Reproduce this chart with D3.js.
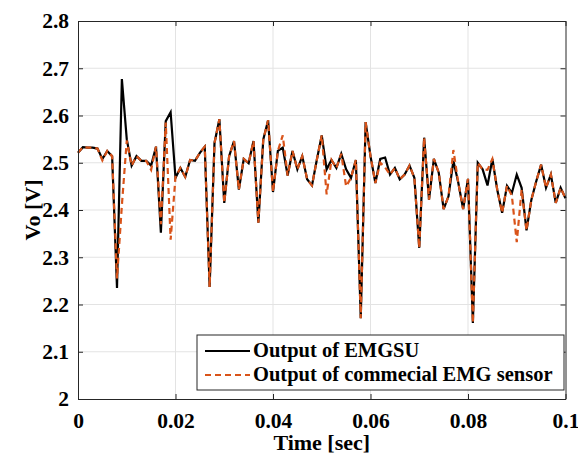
<!DOCTYPE html>
<html>
<head>
<meta charset="utf-8">
<script src="https://cdn.jsdelivr.net/npm/d3@7"></script>
<style>
  body { margin: 0; background: #fff; }
  #chart { width: 578px; height: 456px; }
  text { font-family: "Liberation Serif", "Times New Roman", serif; font-weight: bold; fill: #000; }
</style>
</head>
<body>
<div id="chart"></div>
<script>
// sample period of the recordings (sec)
const sampleStep = 0.001;

// Output of EMGSU (V), one value per sample
const emgsuValues = [
  2.521, 2.533, 2.532, 2.532, 2.530, 2.508, 2.525, 2.514, 2.235, 2.677,
  2.550, 2.494, 2.514, 2.504, 2.504, 2.494, 2.534, 2.352, 2.588, 2.607,
  2.468, 2.489, 2.470, 2.506, 2.504, 2.521, 2.534, 2.237, 2.542, 2.592,
  2.415, 2.514, 2.546, 2.443, 2.508, 2.499, 2.546, 2.373, 2.549, 2.590,
  2.438, 2.525, 2.532, 2.473, 2.525, 2.486, 2.514, 2.465, 2.452, 2.507,
  2.558, 2.486, 2.506, 2.489, 2.519, 2.486, 2.468, 2.506, 2.171, 2.586,
  2.514, 2.457, 2.508, 2.511, 2.475, 2.489, 2.465, 2.475, 2.494, 2.468,
  2.320, 2.553, 2.422, 2.508, 2.479, 2.402, 2.429, 2.504, 2.458, 2.402,
  2.466, 2.161, 2.500, 2.486, 2.452, 2.508, 2.443, 2.394, 2.451, 2.436,
  2.475, 2.447, 2.357, 2.422, 2.461, 2.496, 2.447, 2.475, 2.415, 2.447,
  2.425
];

// Output of commercial EMG sensor (V)
const sensorValues = [
  2.521, 2.533, 2.532, 2.532, 2.530, 2.505, 2.525, 2.514, 2.255, 2.410,
  2.547, 2.494, 2.514, 2.504, 2.504, 2.485, 2.534, 2.370, 2.585, 2.337,
  2.470, 2.489, 2.470, 2.506, 2.504, 2.521, 2.534, 2.237, 2.542, 2.592,
  2.415, 2.514, 2.546, 2.443, 2.508, 2.499, 2.546, 2.373, 2.549, 2.590,
  2.438, 2.525, 2.558, 2.473, 2.525, 2.486, 2.514, 2.465, 2.452, 2.507,
  2.558, 2.433, 2.506, 2.489, 2.519, 2.450, 2.468, 2.506, 2.171, 2.586,
  2.514, 2.457, 2.500, 2.490, 2.475, 2.489, 2.465, 2.475, 2.494, 2.468,
  2.320, 2.553, 2.422, 2.508, 2.479, 2.402, 2.429, 2.527, 2.458, 2.402,
  2.466, 2.161, 2.500, 2.486, 2.485, 2.508, 2.443, 2.394, 2.451, 2.430,
  2.332, 2.443, 2.357, 2.422, 2.461, 2.496, 2.447, 2.475, 2.415, 2.447,
  2.425
];

const xTicks = [0, 0.02, 0.04, 0.06, 0.08, 0.1];
const yTicks = [2, 2.1, 2.2, 2.3, 2.4, 2.5, 2.6, 2.7, 2.8];
const seriesNames = ["Output of EMGSU", "Output of commecial EMG sensor"];

class LinePlot {
  constructor(opts) {
    this.element = opts.element;
    this.series = opts.series;
    this.draw();
  }

  draw() {
    this.margin = {top: 21, right: 12.5, bottom: 57, left: 78};
    this.width = 578 - this.margin.left - this.margin.right;
    this.height = 456 - this.margin.top - this.margin.bottom;

    const svg = d3.select(this.element).append("svg")
      .attr("width", 578)
      .attr("height", 456);
    this.svg = svg;

    this.chart = svg.append("g")
      .attr("transform", "translate(" + this.margin.left + "," + this.margin.top + ")");

    this.createScales();
    this.addGrid();
    this.addLines();
    this.addAxes();
    this.addLegend();
  }

  createScales() {
    this.xscale = d3.scaleLinear().domain([0, 0.1]).range([0, this.width]);
    this.yscale = d3.scaleLinear().domain([2, 2.8]).range([this.height, 0]);
  }

  addGrid() {
    const g = this.chart.append("g").attr("class", "grid");
    g.selectAll(".gx").data(xTicks.slice(1, -1)).join("line")
      .attr("x1", d => this.xscale(d)).attr("x2", d => this.xscale(d))
      .attr("y1", 0).attr("y2", this.height)
      .attr("stroke", "#e3e3e3").attr("stroke-width", 1);
    g.selectAll(".gy").data(yTicks.slice(1, -1)).join("line")
      .attr("x1", 0).attr("x2", this.width)
      .attr("y1", d => this.yscale(d)).attr("y2", d => this.yscale(d))
      .attr("stroke", "#e3e3e3").attr("stroke-width", 1);
  }

  addLines() {
    const line = d3.line()
      .x((d, i) => this.xscale(i * sampleStep))
      .y(d => this.yscale(d));

    this.chart.append("path")
      .datum(this.series[0])
      .attr("fill", "none")
      .attr("stroke", "#000")
      .attr("stroke-width", 2.2)
      .attr("d", line);

    this.chart.append("path")
      .datum(this.series[1])
      .attr("fill", "none")
      .attr("stroke", "#D95319")
      .attr("stroke-width", 2.2)
      .attr("stroke-dasharray", "6,4")
      .attr("d", line);
  }

  addAxes() {
    const fmt = d => d === 0 ? "0" : String(d);
    const axisColor = "#262626";

    const styleAxis = sel => {
      sel.select(".domain").attr("stroke", axisColor).attr("stroke-width", 1);
      sel.selectAll(".tick line").attr("stroke", axisColor);
      sel.selectAll("text").attr("font-size", 21.5)
        .attr("font-family", "Liberation Serif, serif").attr("font-weight", "bold").attr("fill", "#000");
    };

    this.chart.append("g")
      .call(d3.axisLeft(this.yscale).tickValues(yTicks).tickFormat(fmt).tickSizeInner(-5).tickSizeOuter(0).tickPadding(9))
      .call(styleAxis);

    this.chart.append("g")
      .attr("transform", "translate(0," + this.height + ")")
      .call(d3.axisBottom(this.xscale).tickValues(xTicks).tickFormat(fmt).tickSizeInner(-5).tickSizeOuter(0).tickPadding(14))
      .call(styleAxis);

    this.chart.append("g")
      .attr("transform", "translate(" + this.width + ",0)")
      .call(d3.axisRight(this.yscale).tickValues(yTicks).tickFormat("").tickSizeInner(-5).tickSizeOuter(0))
      .call(styleAxis);

    this.chart.append("g")
      .call(d3.axisTop(this.xscale).tickValues(xTicks).tickFormat("").tickSizeInner(-5).tickSizeOuter(0))
      .call(styleAxis);

    this.svg.append("text")
      .attr("x", this.margin.left + this.width / 2)
      .attr("y", 450)
      .attr("text-anchor", "middle")
      .attr("font-size", 22)
      .text("Time [sec]");

    this.svg.append("text")
      .attr("transform", "translate(40," + (this.margin.top + this.height / 2) + ") rotate(-90)")
      .attr("text-anchor", "middle")
      .attr("font-size", 22)
      .text("Vo [V]");
  }

  addLegend() {
    const lg = this.svg.append("g").attr("transform", "translate(197,335)");
    lg.append("rect")
      .attr("width", 367).attr("height", 55)
      .attr("fill", "#fff").attr("stroke", "#262626").attr("stroke-width", 1);

    const rows = lg.selectAll(".row").data(seriesNames).join("g")
      .attr("transform", (d, i) => "translate(0," + (16 + i * 24) + ")");

    rows.append("line")
      .attr("x1", 8).attr("x2", 53).attr("y1", 0).attr("y2", 0)
      .attr("stroke", (d, i) => i === 0 ? "#000" : "#D95319")
      .attr("stroke-width", 2)
      .attr("stroke-dasharray", (d, i) => i === 0 ? null : "6,4");

    rows.append("text")
      .attr("x", 56).attr("y", 6)
      .attr("font-size", 20.5)
      .text(d => d);
  }
}

new LinePlot({element: document.getElementById("chart"), series: [emgsuValues, sensorValues]});
</script>
</body>
</html>
